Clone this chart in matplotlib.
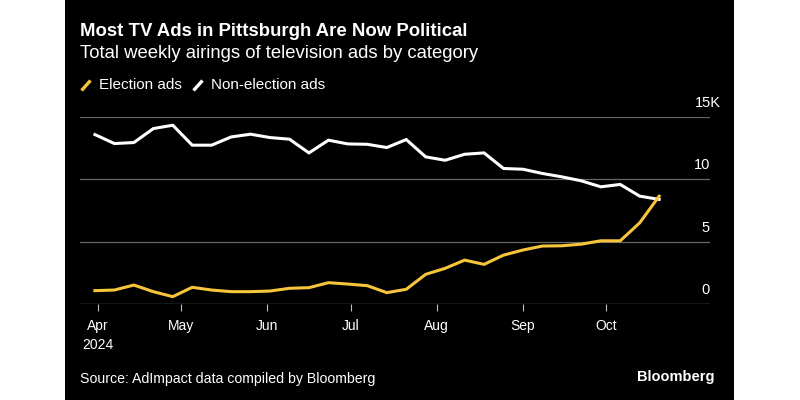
import numpy as np
import pandas as pd
import matplotlib
matplotlib.use('agg')
import matplotlib.pyplot as plt
import matplotlib.dates as mdates
from matplotlib.lines import Line2D
from matplotlib.patches import Rectangle

plt.rcParams['font.family'] = ['Liberation Sans', 'DejaVu Sans']

# weekly airings, weeks starting 2024-03-31
weeks = pd.date_range('2024-03-31', periods=30, freq='7D')
election = [1070, 1120, 1520, 990, 590, 1340, 1120, 990, 990, 1040,
            1260, 1310, 1710, 1600, 1470, 910, 1180, 2380, 2860, 3520,
            3180, 3920, 4330, 4650, 4670, 4800, 5070, 5070, 6510, 8650]
non_election = [13590, 12870, 12950, 14070, 14340, 12740, 12740, 13400, 13620, 13350,
                13220, 12120, 13140, 12840, 12810, 12550, 13190, 11800, 11530, 12010,
                12120, 10870, 10810, 10470, 10200, 9880, 9400, 9590, 8650, 8390]
yticks = [0, 5000, 10000, 15000]
ylabels = ['0', '5', '10', '15K']
month_ticks = pd.to_datetime(['2024-04-01', '2024-05-01', '2024-06-01', '2024-07-01',
                              '2024-08-01', '2024-09-01', '2024-10-01'])
month_labels = ['Apr\n2024', 'May', 'Jun', 'Jul', 'Aug', 'Sep', 'Oct']

YELLOW = '#f7c53b'
W, H = 800, 400

fig = plt.figure(figsize=(8, 4), dpi=100, facecolor='white')
fig.add_artist(Rectangle((65 / W, 0), (734 - 65) / W, 1, transform=fig.transFigure,
                         facecolor='black', edgecolor='none', zorder=-10))

ax = fig.add_axes([80 / W, (H - 304) / H, (710 - 80) / W, (304 - 117) / H])
ax.set_facecolor('none')
ax.set_ylim(0, 15000)
ax.set_xlim(mdates.date2num(pd.Timestamp('2024-03-25 15:00')),
            mdates.date2num(pd.Timestamp('2024-11-07 07:00')))

for v in yticks[1:]:
    ax.axhline(v, color='#666666', lw=0.9, zorder=1)
ax.axhline(0, color='#bdbdbd', lw=0.9, zorder=1)

ax.plot(weeks, non_election, color='white', lw=2.2, solid_joinstyle='miter', zorder=3, clip_on=False)
ax.plot(weeks, election, color=YELLOW, lw=2.2, solid_joinstyle='miter', zorder=4, clip_on=False)

for s in ax.spines.values():
    s.set_visible(False)
ax.set_yticks([])
ax.set_xticks(month_ticks)
ax.set_xticklabels(month_labels, color='white', fontsize=10, linespacing=1.45, va='top')
ax.tick_params(axis='x', length=5, width=0.8, color='#bdbdbd', pad=6)

# y labels sit above their gridlines at the right edge
for v, lab in zip(yticks, ylabels):
    xr = 1.0 if lab != '15K' else 1.0 + 11 / (710 - 80)
    ax.annotate(lab, xy=(xr, v), xycoords=('axes fraction', 'data'),
                xytext=(0, 5), textcoords='offset points',
                ha='right', va='bottom', color='white', fontsize=10.5)

fig.text(80 / W, 1 - 32 / H, 'Most TV Ads in Pittsburgh Are Now Political',
         color='white', fontsize=13.4, fontweight='bold', va='center')
fig.text(80 / W, 1 - 54 / H, 'Total weekly airings of television ads by category',
         color='white', fontsize=13.3, va='center')

# legend
fig.add_artist(Line2D([81.5 / W, 90.5 / W], [1 - 90.5 / H, 1 - 80.5 / H], transform=fig.transFigure,
                      color=YELLOW, lw=2.4, solid_capstyle='butt'))
fig.text(99 / W, 1 - 85 / H, 'Election ads', color='white', fontsize=11, va='center')
fig.add_artist(Line2D([193.5 / W, 202.5 / W], [1 - 90.5 / H, 1 - 80.5 / H], transform=fig.transFigure,
                      color='white', lw=2.4, solid_capstyle='butt'))
fig.text(211 / W, 1 - 85 / H, 'Non-election ads', color='white', fontsize=11, va='center')

fig.text(80 / W, 1 - 379 / H, 'Source: AdImpact data compiled by Bloomberg',
         color='white', fontsize=10.2, va='center')
fig.text(714 / W, 1 - 377 / H, 'Bloomberg', color='white', fontsize=10.5,
         fontweight='bold', va='center', ha='right')

fig.savefig('out.png', dpi=100, facecolor='white')
